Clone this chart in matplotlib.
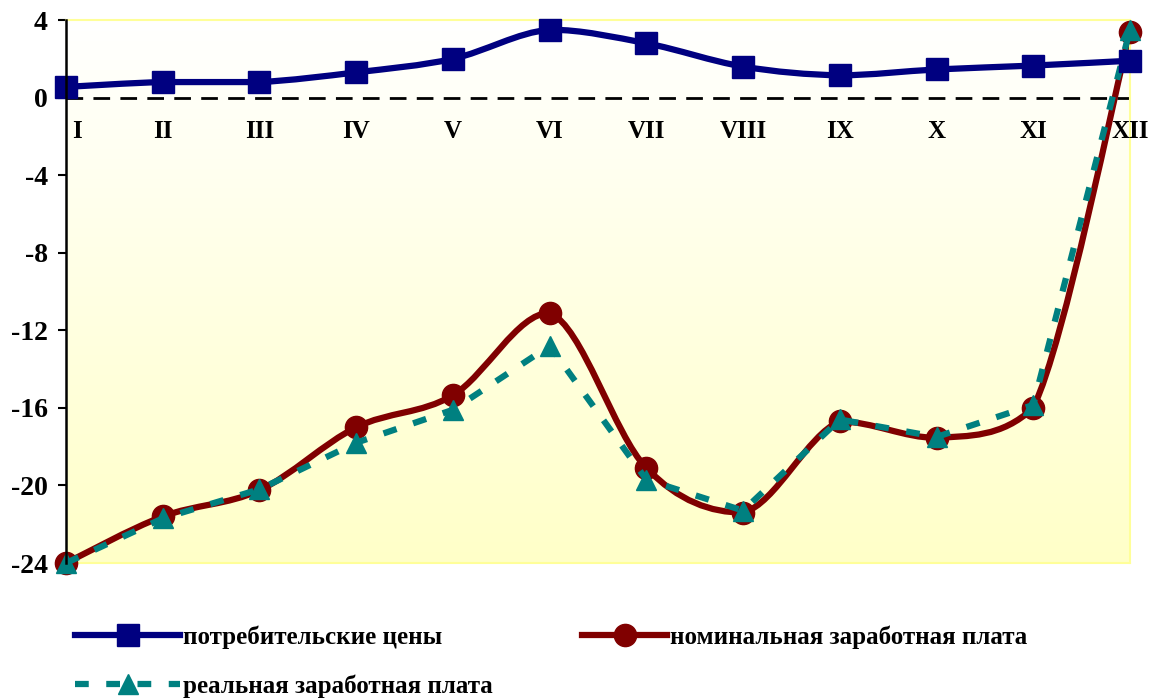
import numpy as np
import matplotlib
matplotlib.use("Agg")
import matplotlib.pyplot as plt
from matplotlib.path import Path
from matplotlib.patches import PathPatch
from matplotlib.lines import Line2D
from matplotlib.colors import LinearSegmentedColormap

months = ["I", "II", "III", "IV", "V", "VI", "VII", "VIII", "IX", "X", "XI", "XII"]
cpi = [0.55, 0.8, 0.8, 1.3, 2.0, 3.5, 2.8, 1.6, 1.15, 1.45, 1.65, 1.9]
nominal = [-24.0, -21.6, -20.25, -17.0, -15.35, -11.1, -19.1, -21.4, -16.7, -17.55, -16.0, 3.4]
real = [-24.0, -21.7, -20.2, -17.8, -16.1, -12.8, -19.7, -21.3, -16.6, -17.5, -15.85, 3.5]

labels = ["потребительские цены", "номинальная заработная плата", "реальная заработная плата"]
yticks = [-24, -20, -16, -12, -8, -4, 0, 4]

BLUE = "#000080"
RED = "#800000"
TEAL = "#008080"

plt.rcParams['font.family'] = ['Liberation Serif', 'DejaVu Serif']


def smooth_path(xs, ys):
    pts = np.column_stack([xs, ys]).astype(float)
    n = len(pts)
    verts = [pts[0]]
    codes = [Path.MOVETO]
    for i in range(n - 1):
        p0 = pts[i - 1] if i > 0 else pts[i]
        p1 = pts[i]
        p2 = pts[i + 1]
        p3 = pts[i + 2] if i + 2 < n else pts[i + 1]
        c1 = p1 + (p2 - p0) / 6.0
        c2 = p2 - (p3 - p1) / 6.0
        lo, hi = min(p1[1], p2[1]), max(p1[1], p2[1])
        c1[1] = np.clip(c1[1], lo, hi)
        c2[1] = np.clip(c2[1], lo, hi)
        verts += [c1, c2, p2]
        codes += [Path.CURVE4] * 3
    return Path(verts, codes)


fig = plt.figure(figsize=(11.59, 6.99), dpi=100)
ax = fig.add_axes([66 / 1159, 1 - 563 / 699, (1130 - 66) / 1159, (563 - 20) / 699])

x = np.arange(len(months))

# gradient background
grad = np.linspace(0, 1, 256).reshape(-1, 1)
cmap = LinearSegmentedColormap.from_list("bg", ["#FFFFFF", "#FFFFC8"])
ax.imshow(grad, extent=[0, 11, -24, 4], aspect='auto', cmap=cmap, origin='upper', zorder=0)

ax.set_xlim(0, 11)
ax.set_ylim(-24, 4)

# zero line
ax.axhline(0, color="black", lw=2.0, ls=(0, (6, 3.7)), zorder=1)

# nominal wages
ax.add_patch(PathPatch(smooth_path(x, nominal), fill=False, edgecolor=RED, lw=4.5, zorder=2,
                       capstyle='round', joinstyle='round'))
ax.plot(x, nominal, ls='none', marker='o', ms=16, color=RED, zorder=3, clip_on=False)

# real wages
ax.plot(x, real, color=TEAL, lw=4.5, ls=(0, (2.2, 2.8)), zorder=4, clip_on=False)
ax.plot(x, real, ls='none', marker='^', ms=15, color=TEAL, zorder=5, clip_on=False)

# CPI
ax.add_patch(PathPatch(smooth_path(x, cpi), fill=False, edgecolor=BLUE, lw=4.5, zorder=6,
                       capstyle='round', joinstyle='round'))
ax.plot(x, cpi, ls='none', marker='s', ms=16, color=BLUE, zorder=7, clip_on=False)

# month labels
for i, m in enumerate(months):
    xx = i + 0.11 if i == 0 else i
    ax.text(xx, -1.75, m, ha='center', va='center', fontsize=18, fontweight='bold', zorder=8)

ax.set_xticks([])
ax.set_yticks(yticks)
ax.set_yticklabels([str(t) for t in yticks], fontsize=20, fontweight='bold')
ax.tick_params(axis='y', direction='out', length=6, width=1.5, pad=7)

for s in ['top', 'right', 'bottom']:
    ax.spines[s].set_color("#FFFF99")
    ax.spines[s].set_linewidth(1.5)
ax.spines['left'].set_color("black")
ax.spines['left'].set_linewidth(1.8)
ax.spines['left'].set_zorder(9)

h_cpi = Line2D([], [], color=BLUE, lw=4.5, marker='s', ms=16)
h_nom = Line2D([], [], color=RED, lw=4.5, marker='o', ms=16)
h_real = Line2D([], [], color=TEAL, lw=4.5, ls=(0, (2.2, 2.8)), marker='^', ms=15)

W, H = 1159.0, 699.0
entries = [(h_cpi, labels[0], 75, 637, 4.2),
           (h_nom, labels[1], 582, 637, 3.4),
           (h_real, labels[2], 75, 686, 4.2)]
for h, lab, px, py, hl in entries:
    lg = fig.legend([h], [lab], loc='center left', bbox_to_anchor=(px / W, 1 - py / H),
                    frameon=False, handlelength=hl, handletextpad=0.12,
                    borderpad=0, borderaxespad=0,
                    prop={'weight': 'bold', 'size': 18})

fig.savefig("out.png", dpi=100)
